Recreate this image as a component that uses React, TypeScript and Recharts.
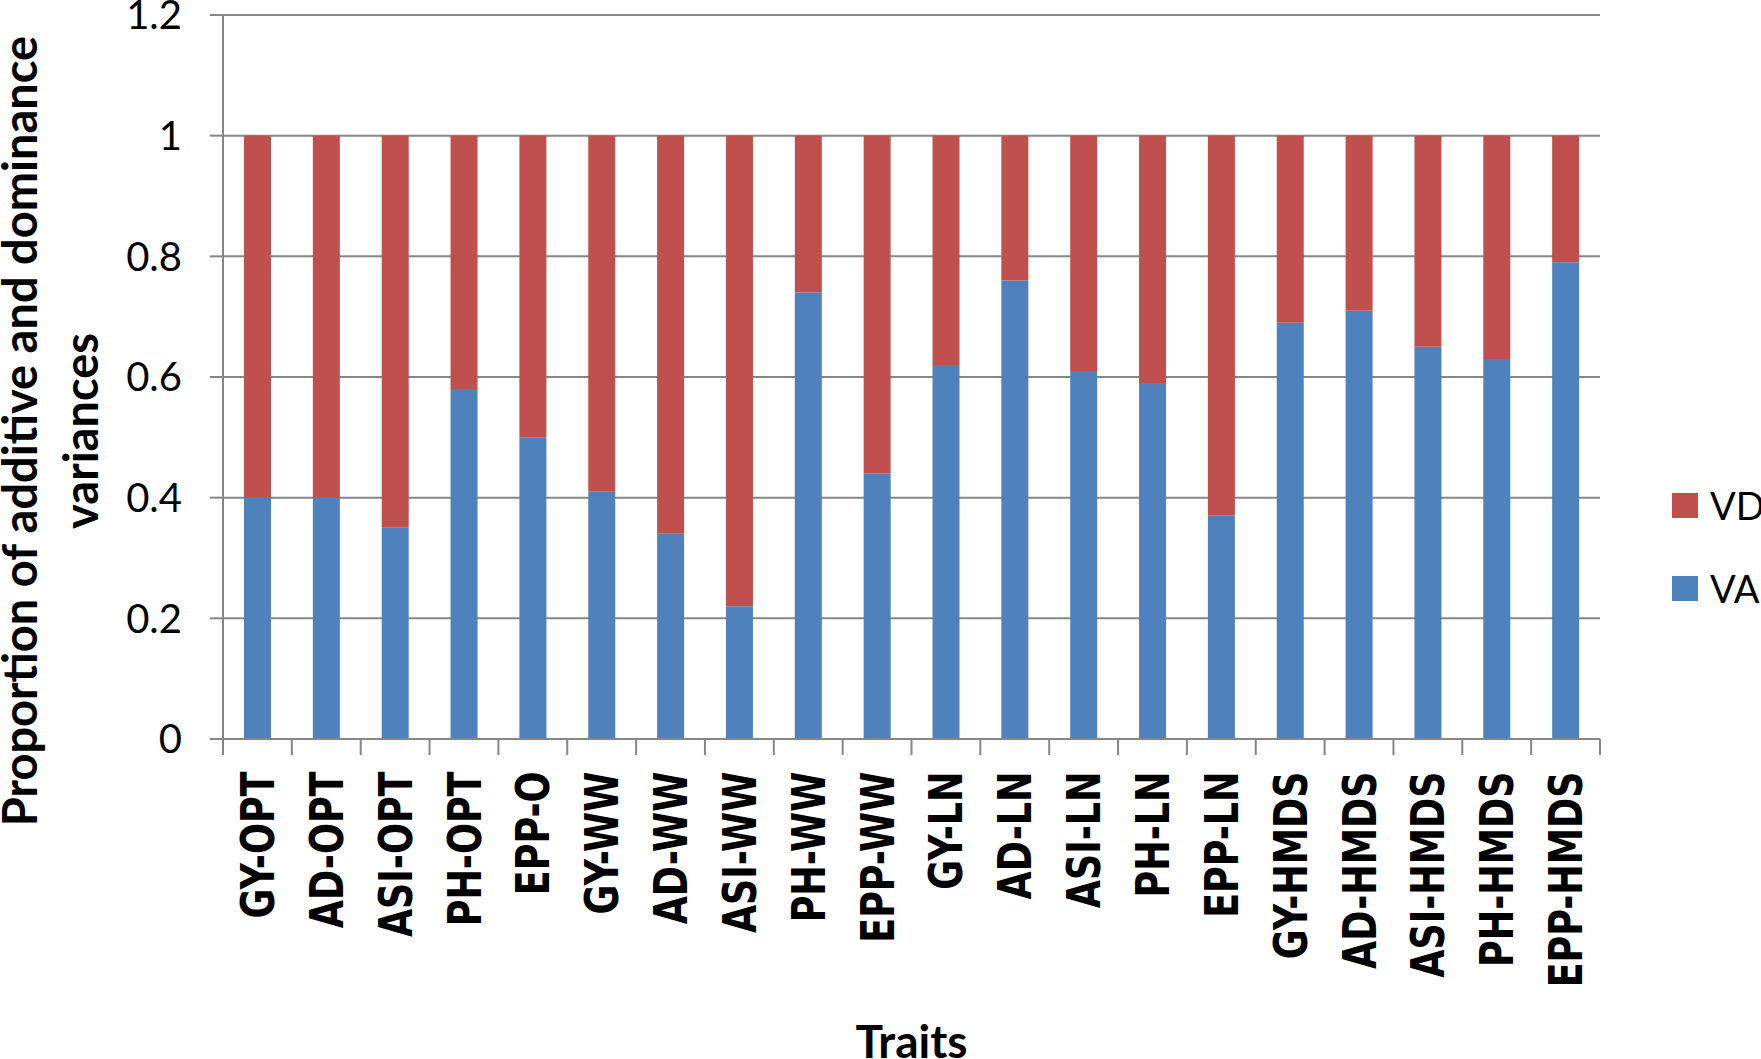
import React from 'react';
import { BarChart, Bar, XAxis, YAxis, CartesianGrid, Legend, Label } from 'recharts';

const traits = [
  'GY-OPT', 'AD-OPT', 'ASI-OPT', 'PH-OPT', 'EPP-O',
  'GY-WW', 'AD-WW', 'ASI-WW', 'PH-WW', 'EPP-WW',
  'GY-LN', 'AD-LN', 'ASI-LN', 'PH-LN', 'EPP-LN',
  'GY-HMDS', 'AD-HMDS', 'ASI-HMDS', 'PH-HMDS', 'EPP-HMDS'
];
const vaValues = [
  0.40, 0.40, 0.35, 0.58, 0.50,
  0.41, 0.34, 0.22, 0.74, 0.44,
  0.62, 0.76, 0.61, 0.59, 0.37,
  0.69, 0.71, 0.65, 0.63, 0.79
];
const vdValues = [
  0.60, 0.60, 0.65, 0.42, 0.50,
  0.59, 0.66, 0.78, 0.26, 0.56,
  0.38, 0.24, 0.39, 0.41, 0.63,
  0.31, 0.29, 0.35, 0.37, 0.21
];
const yTicks = [0, 0.2, 0.4, 0.6, 0.8, 1, 1.2];

const data = traits.map((trait, i) => ({ trait, VA: vaValues[i], VD: vdValues[i] }));

const W = 1761;
const H = 1059;
const MARGIN = { top: 15, right: 161, bottom: 0, left: 0 };
const Y_AXIS_W = 223;
const GRID = '#868686';
const BAND = (W - MARGIN.left - MARGIN.right - Y_AXIS_W) / traits.length;

// category-boundary tick marks (Excel style) plus the rotated bold label
const TraitTick = (props: any) => {
  const { x, y, payload, index } = props;
  const last = index === traits.length - 1;
  return (
    <g>
      <line x1={x - BAND / 2} x2={x - BAND / 2} y1={y} y2={y + 16} stroke={GRID} strokeWidth={2} />
      {last && <line x1={x + BAND / 2} x2={x + BAND / 2} y1={y} y2={y + 16} stroke={GRID} strokeWidth={2} />}
      <text
        transform={`translate(${x},${y}) rotate(-90) scale(0.88,1)`}
        x={-37}
        y={0}
        dy="0.36em"
        textAnchor="end"
        fontFamily="'Liberation Sans Narrow', 'DejaVu Sans Condensed', 'Liberation Sans', Arial, sans-serif"
        fontWeight="bold"
        fontSize={46}
        fill="#000"
      >
        {payload.value}
      </text>
    </g>
  );
};

const YTitle = (props: any) => {
  const vb = props.viewBox || { x: 0, y: 0, width: 0, height: 0 };
  const cy = vb.y + vb.height / 2 + 54;
  const style = { fontFamily: 'Lato, sans-serif', fontWeight: 700, fontSize: 47, fill: '#000' };
  return (
    <g>
      <text transform={`translate(${vb.x + 37},${cy}) rotate(-90)`} textAnchor="middle" style={style}>
        Proportion of additive and dominance
      </text>
      <text transform={`translate(${vb.x + 98},${cy}) rotate(-90)`} textAnchor="middle" style={style}>
        variances
      </text>
    </g>
  );
};

const LegendBox = (props: any) => {
  const items = [...(props.payload || [])].reverse();
  return (
    <div style={{ fontFamily: 'Lato, sans-serif', fontSize: 38, color: '#000' }}>
      {items.map((it: any) => (
        <div key={it.value} style={{ display: 'flex', alignItems: 'center', height: 25, marginBottom: 58, whiteSpace: 'nowrap' }}>
          <span style={{ display: 'inline-block', width: 26, height: 25, background: it.color }} />
          <span style={{ marginLeft: 12, lineHeight: '25px' }}>{it.value}</span>
        </div>
      ))}
    </div>
  );
};

export default function App() {
  return (
    <div style={{ position: 'fixed', left: 0, top: 0, width: W, height: H, overflow: 'hidden', background: '#fff' }}>
      <BarChart width={W} height={H} data={data} margin={MARGIN} barSize={27}>
        <CartesianGrid vertical={false} stroke={GRID} strokeWidth={2} />
        <XAxis
          dataKey="trait"
          height={320}
          interval={0}
          axisLine={{ stroke: GRID, strokeWidth: 2 }}
          tickLine={false}
          tickSize={0}
          tickMargin={0}
          tick={<TraitTick />}
        >
          <Label
            value="Traits"
            position="insideBottom"
            offset={1}
            style={{ fontFamily: 'Lato, sans-serif', fontWeight: 700, fontSize: 46, fill: '#000' }}
          />
        </XAxis>
        <YAxis
          width={Y_AXIS_W}
          domain={[0, 1.2]}
          ticks={yTicks}
          interval={0}
          axisLine={{ stroke: GRID, strokeWidth: 2 }}
          tickLine={{ stroke: GRID, strokeWidth: 2 }}
          tickSize={13}
          tickMargin={28}
          tick={{ fontFamily: 'Lato, sans-serif', fontSize: 40, fill: '#000' }}
        >
          <Label content={<YTitle />} />
        </YAxis>
        <Bar dataKey="VA" stackId="v" fill="#4F81BD" isAnimationActive={false} />
        <Bar dataKey="VD" stackId="v" fill="#C0504D" isAnimationActive={false} />
        <Legend
          layout="vertical"
          align="center"
          verticalAlign="middle"
          content={<LegendBox />}
          wrapperStyle={{ left: 1672, top: 493, width: 120 }}
        />
      </BarChart>
    </div>
  );
}
